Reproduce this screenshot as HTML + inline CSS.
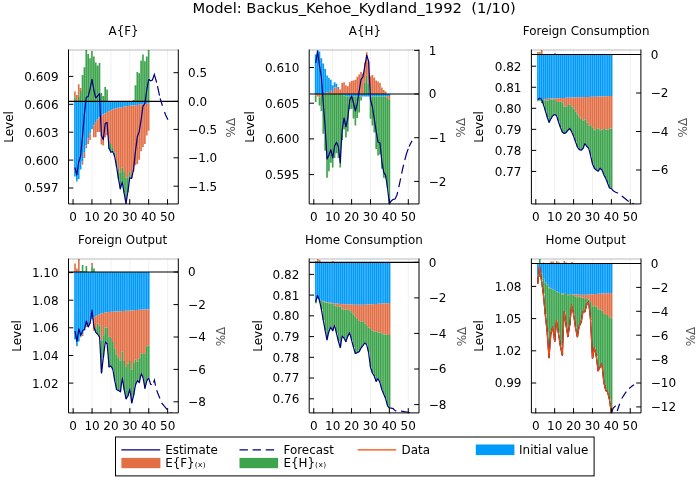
<!DOCTYPE html>
<html lang="en"><head><meta charset="utf-8"><title>Model: Backus_Kehoe_Kydland_1992 (1/10)</title>
<style>html,body{margin:0;padding:0;background:#fff}svg{display:block}</style></head>
<body>
<svg width="700" height="500" viewBox="0 0 700 500" font-family="'DejaVu Sans', 'Liberation Sans', sans-serif" font-size="12" fill="#000">
<rect width="700" height="500" fill="#fff"/>
<text x="354.2" y="13.2" font-size="14.72" text-anchor="middle" xml:space="preserve" style="white-space:pre">Model: Backus_Kehoe_Kydland_1992  (1/10)</text>
<clipPath id="c0"><rect x="68.5" y="50" width="109.8" height="153.95"/></clipPath>
<text x="123.6" y="35.3" text-anchor="middle" font-size="11.9">A{F}</text>
<path d="M73.05 50V203.95M91.95 50V203.95M110.85 50V203.95M129.75 50V203.95M148.65 50V203.95M167.55 50V203.95" stroke="#000" stroke-opacity="0.1" stroke-width="0.6" fill="none"/>
<g clip-path="url(#c0)">
<path d="M74.11 101.4h1.66V176.6h-1.66zM76 101.4h1.66V180.8h-1.66zM77.89 101.4h1.66V179h-1.66zM79.78 101.4h1.66V169.4h-1.66zM81.67 101.4h1.66V161.6h-1.66zM83.56 101.4h1.66V152h-1.66zM85.45 101.4h1.66V145.2h-1.66zM87.34 101.4h1.66V138.4h-1.66zM89.23 101.4h1.66V133.2h-1.66zM91.12 101.4h1.66V129.2h-1.66zM93.01 101.4h1.66V125.2h-1.66zM94.9 101.4h1.66V122h-1.66zM96.79 101.4h1.66V119.6h-1.66zM98.68 101.4h1.66V117.6h-1.66zM100.57 101.4h1.66V116h-1.66zM102.46 101.4h1.66V114.4h-1.66zM104.35 101.4h1.66V113.2h-1.66zM106.24 101.4h1.66V112h-1.66zM108.13 101.4h1.66V111.2h-1.66zM110.02 101.4h1.66V110.2h-1.66zM111.91 101.4h1.66V109.4h-1.66zM113.8 101.4h1.66V108.8h-1.66zM115.69 101.4h1.66V108.2h-1.66zM117.58 101.4h1.66V107.8h-1.66zM119.47 101.4h1.66V107.4h-1.66zM121.36 101.4h1.66V107h-1.66zM123.25 101.4h1.66V106.7h-1.66zM125.14 101.4h1.66V106.4h-1.66zM127.03 101.4h1.66V106.1h-1.66zM128.92 101.4h1.66V105.8h-1.66zM130.81 101.4h1.66V105.6h-1.66zM132.7 101.4h1.66V105.37h-1.66zM134.59 101.4h1.66V105.13h-1.66zM136.48 101.4h1.66V104.9h-1.66zM138.37 101.4h1.66V104.67h-1.66zM140.26 101.4h1.66V104.43h-1.66zM142.15 101.4h1.66V104.2h-1.66zM144.04 101.4h1.66V103.97h-1.66zM145.93 101.4h1.66V103.73h-1.66zM147.82 101.4h1.66V103.5h-1.66z" fill="#009AFA"/>
<path d="M74.11 91.4h1.66V97.4h-1.66zM76 95h1.66V101.4h-1.66zM77.89 84.2h1.66V97h-1.66zM79.78 88h1.66V91h-1.66zM81.67 161.6h1.66V164.6h-1.66zM83.56 152h1.66V158h-1.66zM85.45 145.2h1.66V148.2h-1.66zM87.34 138.4h1.66V144h-1.66zM89.23 133.2h1.66V140h-1.66zM93.01 125.2h1.66V137.2h-1.66zM94.9 122h1.66V137.2h-1.66zM96.79 119.6h1.66V132h-1.66zM98.68 117.6h1.66V132h-1.66zM100.57 116h1.66V144.4h-1.66zM102.46 114.4h1.66V145.6h-1.66zM104.35 113.2h1.66V137.2h-1.66zM106.24 112h1.66V135.2h-1.66zM108.13 111.2h1.66V140.8h-1.66zM110.02 110.2h1.66V144h-1.66zM111.91 109.4h1.66V148h-1.66zM113.8 108.8h1.66V152.8h-1.66zM115.69 108.2h1.66V161h-1.66zM117.58 107.8h1.66V168.2h-1.66zM119.47 107.4h1.66V173h-1.66zM121.36 107h1.66V167.6h-1.66zM123.25 106.7h1.66V171.2h-1.66zM125.14 106.4h1.66V177.8h-1.66zM127.03 106.1h1.66V177.2h-1.66zM128.92 105.8h1.66V171.8h-1.66zM130.81 105.6h1.66V178.2h-1.66zM132.7 105.37h1.66V171.8h-1.66zM134.59 105.13h1.66V165.2h-1.66zM136.48 104.9h1.66V164h-1.66zM138.37 104.67h1.66V159.8h-1.66zM140.26 104.43h1.66V151.3h-1.66zM142.15 104.2h1.66V147.1h-1.66zM144.04 103.97h1.66V144h-1.66zM145.93 103.73h1.66V135.6h-1.66zM147.82 103.5h1.66V130.8h-1.66z" fill="#E26F46"/>
<path d="M74.11 97.4h1.66V101.4h-1.66zM76 180.8h1.66V181.6h-1.66zM77.89 97h1.66V101.4h-1.66zM79.78 91h1.66V101.4h-1.66zM81.67 75h1.66V101.4h-1.66zM83.56 67.2h1.66V101.4h-1.66zM85.45 50h1.66V101.4h-1.66zM87.34 54h1.66V101.4h-1.66zM89.23 58.2h1.66V101.4h-1.66zM91.12 51h1.66V101.4h-1.66zM93.01 56.4h1.66V101.4h-1.66zM94.9 62.4h1.66V101.4h-1.66zM96.79 65.4h1.66V101.4h-1.66zM98.68 63h1.66V101.4h-1.66zM100.57 93h1.66V101.4h-1.66zM102.46 96h1.66V101.4h-1.66zM104.35 87h1.66V101.4h-1.66zM106.24 89.4h1.66V101.4h-1.66zM108.13 140.8h1.66V149h-1.66zM110.02 144h1.66V151.5h-1.66zM111.91 148h1.66V152h-1.66zM113.8 152.8h1.66V156.2h-1.66zM115.69 161h1.66V166.4h-1.66zM117.58 168.2h1.66V179h-1.66zM119.47 173h1.66V188.6h-1.66zM121.36 167.6h1.66V182h-1.66zM123.25 171.2h1.66V192.8h-1.66zM125.14 177.8h1.66V203.6h-1.66zM127.03 177.2h1.66V192h-1.66zM128.92 171.8h1.66V177.8h-1.66zM132.7 100h1.66V101.4h-1.66zM134.59 85.2h1.66V101.4h-1.66zM136.48 72h1.66V101.4h-1.66zM138.37 73.2h1.66V101.4h-1.66zM140.26 60.6h1.66V101.4h-1.66zM142.15 54.6h1.66V101.4h-1.66zM144.04 61.2h1.66V101.4h-1.66zM145.93 56.4h1.66V101.4h-1.66zM147.82 50h1.66V101.4h-1.66z" fill="#3DA44D"/>
<path d="M68.5 101.4H178.3" stroke="#000" stroke-width="1.15"/>
<polyline points="74.94,167.5 76.83,175 78.72,162 80.61,156 82.5,136 84.39,114 86.28,97.2 88.17,96.6 90.06,88.8 91.95,79.4 93.84,90 95.73,97.8 97.62,96 99.51,93.6 101.4,135.6 103.29,139.6 105.18,123.6 107.07,122.4 108.96,148 110.85,152.3 112.74,151.6 114.63,156.3 116.52,166.4 118.41,178.5 120.3,188.8 122.19,182 124.08,192.8 125.97,203.6 127.86,191.8 129.75,177.8 131.64,178.4 133.53,169.4 135.42,151.6 137.31,136.8 139.2,131.4 141.09,120 142.98,106.2 144.87,103.5 146.76,90 148.65,79.3" fill="none" stroke="#000080" stroke-width="1.2" stroke-linejoin="round"/>
<polyline points="148.65,79.3 150.54,80.8 152.43,80 154.32,74.4 156.21,81 158.1,89 159.99,98 161.88,104 163.77,110 165.66,115 167.55,119 169.44,122 171.33,124" fill="none" stroke="#000080" stroke-width="1.2" stroke-dasharray="19 3.6 9.7 2.8 7.7 6.5 8.6 99"/>
</g>
<path d="M68.5 50H178.3" stroke="#000" stroke-opacity="0.27" stroke-width="1"/>
<path d="M68.5 49.5V203.95H178.3V49.5M73.05 204.45v-5.3M91.95 204.45v-5.3M110.85 204.45v-5.3M129.75 204.45v-5.3M148.65 204.45v-5.3M167.55 204.45v-5.3M68.5 76.4h4.8M68.5 104.3h4.8M68.5 132.2h4.8M68.5 160.1h4.8M68.5 188h4.8M178.3 72.7h-4.8M178.3 101.4h-4.8M178.3 129.4h-4.8M178.3 157.8h-4.8M178.3 186.2h-4.8" stroke="#000" stroke-width="1" fill="none"/>
<text x="73.05" y="220.75" text-anchor="middle">0</text>
<text x="91.95" y="220.75" text-anchor="middle">10</text>
<text x="110.85" y="220.75" text-anchor="middle">20</text>
<text x="129.75" y="220.75" text-anchor="middle">30</text>
<text x="148.65" y="220.75" text-anchor="middle">40</text>
<text x="167.55" y="220.75" text-anchor="middle">50</text>
<text x="58.6" y="80.8" text-anchor="end">0.609</text>
<text x="58.6" y="108.7" text-anchor="end">0.606</text>
<text x="58.6" y="136.6" text-anchor="end">0.603</text>
<text x="58.6" y="164.5" text-anchor="end">0.600</text>
<text x="58.6" y="192.4" text-anchor="end">0.597</text>
<text x="188.1" y="77.1">0.5</text>
<text x="188.1" y="105.8">0.0</text>
<text x="188.1" y="133.8">−0.5</text>
<text x="188.1" y="162.2">−1.0</text>
<text x="188.1" y="190.6">−1.5</text>
<text transform="translate(12.7 126.97) rotate(-90)" text-anchor="middle">Level</text>
<text transform="translate(235.4 127.57) rotate(-90)" text-anchor="middle" fill="#585858">%Δ</text>
<clipPath id="c1"><rect x="309.2" y="50" width="109.8" height="153.95"/></clipPath>
<text x="364.9" y="35.3" text-anchor="middle" font-size="11.9">A{H}</text>
<path d="M313.8 50V203.95M332.7 50V203.95M351.6 50V203.95M370.5 50V203.95M389.4 50V203.95M408.3 50V203.95" stroke="#000" stroke-opacity="0.1" stroke-width="0.6" fill="none"/>
<g clip-path="url(#c1)">
<path d="M314.86 54.6h1.66V94h-1.66zM316.75 50h1.66V94h-1.66zM318.64 51.6h1.66V94h-1.66zM320.53 58.2h1.66V94h-1.66zM322.42 63.6h1.66V94h-1.66zM324.31 69h1.66V93h-1.66zM326.2 75.6h1.66V92.4h-1.66zM328.09 78h1.66V93h-1.66zM329.98 79.8h1.66V90h-1.66zM331.87 85.2h1.66V92h-1.66zM333.76 82.2h1.66V87.6h-1.66zM335.65 83.8h1.66V87h-1.66zM337.54 87h1.66V89h-1.66zM341.32 94h1.66V95h-1.66zM343.21 94h1.66V95.6h-1.66zM345.1 94h1.66V96.4h-1.66zM346.99 94h1.66V96.4h-1.66zM348.88 94h1.66V96.4h-1.66zM350.77 94h1.66V96.4h-1.66zM352.66 94h1.66V96.4h-1.66zM354.55 94h1.66V96.4h-1.66zM356.44 94h1.66V96.4h-1.66zM358.33 94h1.66V96.4h-1.66zM360.22 94h1.66V96.4h-1.66zM362.11 94h1.66V96.4h-1.66zM364 94h1.66V96.4h-1.66zM365.89 94h1.66V96.4h-1.66zM367.78 94h1.66V96.4h-1.66zM369.67 94h1.66V96.4h-1.66zM371.56 94h1.66V96.4h-1.66zM373.45 94h1.66V96.4h-1.66zM375.34 94h1.66V96.4h-1.66zM377.23 94h1.66V96.4h-1.66zM379.12 94h1.66V96.4h-1.66zM381.01 94h1.66V96.4h-1.66zM382.9 94h1.66V96.4h-1.66zM384.79 94h1.66V96.4h-1.66zM386.68 94h1.66V96h-1.66zM388.57 94h1.66V96h-1.66z" fill="#009AFA"/>
<path d="M314.86 94h1.66V95.5h-1.66zM316.75 94h1.66V96.4h-1.66zM318.64 94h1.66V97.5h-1.66zM320.53 94h1.66V96h-1.66zM324.31 93h1.66V94h-1.66zM326.2 92.4h1.66V94h-1.66zM328.09 93h1.66V94h-1.66zM329.98 90h1.66V94h-1.66zM331.87 92h1.66V94h-1.66zM333.76 87.6h1.66V94h-1.66zM335.65 87h1.66V94h-1.66zM337.54 89h1.66V94h-1.66zM339.43 89.4h1.66V94h-1.66zM341.32 83h1.66V94h-1.66zM343.21 82.2h1.66V94h-1.66zM345.1 85.2h1.66V94h-1.66zM346.99 86.2h1.66V94h-1.66zM348.88 82.2h1.66V94h-1.66zM350.77 81h1.66V94h-1.66zM352.66 80.6h1.66V94h-1.66zM354.55 79.8h1.66V94h-1.66zM356.44 76.8h1.66V94h-1.66zM358.33 74.6h1.66V94h-1.66zM360.22 72h1.66V94h-1.66zM362.11 73.4h1.66V94h-1.66zM364 62.4h1.66V82.8h-1.66zM365.89 52.2h1.66V75.8h-1.66zM367.78 61.8h1.66V84h-1.66zM369.67 76.2h1.66V94h-1.66zM371.56 75h1.66V94h-1.66zM373.45 77.4h1.66V94h-1.66zM375.34 80.4h1.66V94h-1.66zM377.23 81.6h1.66V94h-1.66zM379.12 83h1.66V94h-1.66zM381.01 87.6h1.66V94h-1.66zM382.9 90h1.66V94h-1.66zM384.79 91.5h1.66V94h-1.66zM386.68 96h1.66V97.8h-1.66zM388.57 96h1.66V100h-1.66z" fill="#E26F46"/>
<path d="M314.86 95.5h1.66V102h-1.66zM318.64 97.5h1.66V105.6h-1.66zM320.53 96h1.66V111h-1.66zM322.42 94h1.66V133.8h-1.66zM324.31 94h1.66V150.8h-1.66zM326.2 94h1.66V177.8h-1.66zM328.09 94h1.66V171.2h-1.66zM329.98 94h1.66V162.8h-1.66zM331.87 94h1.66V167.6h-1.66zM333.76 94h1.66V158h-1.66zM335.65 94h1.66V153.2h-1.66zM337.54 94h1.66V158h-1.66zM339.43 94h1.66V167.6h-1.66zM341.32 95h1.66V140h-1.66zM343.21 95.6h1.66V129.6h-1.66zM345.1 96.4h1.66V137.4h-1.66zM346.99 96.4h1.66V131.4h-1.66zM348.88 96.4h1.66V109.2h-1.66zM350.77 96.4h1.66V108.8h-1.66zM352.66 96.4h1.66V118.4h-1.66zM354.55 96.4h1.66V125.6h-1.66zM356.44 96.4h1.66V118h-1.66zM358.33 96.4h1.66V112.4h-1.66zM360.22 96.4h1.66V100.6h-1.66zM364 82.8h1.66V94h-1.66zM365.89 75.8h1.66V94h-1.66zM367.78 84h1.66V94h-1.66zM369.67 96.4h1.66V118.8h-1.66zM371.56 96.4h1.66V125.4h-1.66zM373.45 96.4h1.66V132.6h-1.66zM375.34 96.4h1.66V149h-1.66zM377.23 96.4h1.66V155.6h-1.66zM379.12 96.4h1.66V154.5h-1.66zM381.01 96.4h1.66V168.8h-1.66zM382.9 96.4h1.66V177.8h-1.66zM384.79 96.4h1.66V178.5h-1.66zM386.68 97.8h1.66V188h-1.66zM388.57 100h1.66V203.6h-1.66z" fill="#3DA44D"/>
<path d="M309.2 94H419" stroke="#000" stroke-width="1.15"/>
<polyline points="315.69,62.8 317.58,51.4 319.47,65.5 321.36,77 323.25,103 325.14,127 327.03,159 328.92,155 330.81,149.6 332.7,158 334.59,146 336.48,142.2 338.37,146.4 340.26,162.8 342.15,130 344.04,118 345.93,126.8 347.82,118.2 349.71,100.5 351.6,96 353.49,103 355.38,111 357.27,103.6 359.16,91 361.05,79.4 362.94,76.8 364.83,66 366.72,55.2 368.61,61.2 370.5,99.5 372.39,107 374.28,118.8 376.17,131.4 378.06,142.2 379.95,142.8 381.84,161.6 383.73,172.4 385.62,175.4 387.51,188 389.4,203.8" fill="none" stroke="#000080" stroke-width="1.2" stroke-linejoin="round"/>
<polyline points="389.4,203.8 391.29,201 393.18,199.4 395.07,199 396.96,195 398.85,187 400.74,178 402.63,169 404.52,161 406.41,154 408.3,148.5 410.19,144.3 412.08,140.9" fill="none" stroke="#000080" stroke-width="1.2" stroke-dasharray="15.3 4.9 9 4.9 9.1 4.9 11.6 2.5 7.4 99"/>
</g>
<path d="M309.2 50H419" stroke="#000" stroke-opacity="0.27" stroke-width="1"/>
<path d="M309.2 49.5V203.95H419V49.5M313.8 204.45v-5.3M332.7 204.45v-5.3M351.6 204.45v-5.3M370.5 204.45v-5.3M389.4 204.45v-5.3M408.3 204.45v-5.3M309.2 67.5h4.8M309.2 103.2h4.8M309.2 138.9h4.8M309.2 174.6h4.8M419 50.4h-4.8M419 94h-4.8M419 137.7h-4.8M419 181.4h-4.8" stroke="#000" stroke-width="1" fill="none"/>
<text x="313.8" y="220.75" text-anchor="middle">0</text>
<text x="332.7" y="220.75" text-anchor="middle">10</text>
<text x="351.6" y="220.75" text-anchor="middle">20</text>
<text x="370.5" y="220.75" text-anchor="middle">30</text>
<text x="389.4" y="220.75" text-anchor="middle">40</text>
<text x="408.3" y="220.75" text-anchor="middle">50</text>
<text x="299.3" y="71.9" text-anchor="end">0.610</text>
<text x="299.3" y="107.6" text-anchor="end">0.605</text>
<text x="299.3" y="143.3" text-anchor="end">0.600</text>
<text x="299.3" y="179" text-anchor="end">0.595</text>
<text x="428.8" y="54.8">1</text>
<text x="428.8" y="98.4">0</text>
<text x="428.8" y="142.1">−1</text>
<text x="428.8" y="185.8">−2</text>
<text transform="translate(253.5 126.97) rotate(-90)" text-anchor="middle">Level</text>
<text transform="translate(464.6 127.57) rotate(-90)" text-anchor="middle" fill="#585858">%Δ</text>
<clipPath id="c2"><rect x="531.4" y="50" width="109.5" height="153.95"/></clipPath>
<text x="586.15" y="35.3" text-anchor="middle" font-size="11.9">Foreign Consumption</text>
<path d="M535.8 50V203.95M554.7 50V203.95M573.6 50V203.95M592.5 50V203.95M611.4 50V203.95M630.3 50V203.95" stroke="#000" stroke-opacity="0.1" stroke-width="0.6" fill="none"/>
<g clip-path="url(#c2)">
<path d="M537.11 54.45h1.66V100.2h-1.66zM539 54.45h1.66V99.9h-1.66zM540.89 54.45h1.66V99.6h-1.66zM542.78 54.45h1.66V99.3h-1.66zM544.67 54.45h1.66V99h-1.66zM546.56 54.45h1.66V98.86h-1.66zM548.45 54.45h1.66V98.72h-1.66zM550.34 54.45h1.66V98.58h-1.66zM552.23 54.45h1.66V98.44h-1.66zM554.12 54.45h1.66V98.3h-1.66zM556.01 54.45h1.66V98.22h-1.66zM557.9 54.45h1.66V98.14h-1.66zM559.79 54.45h1.66V98.06h-1.66zM561.68 54.45h1.66V97.98h-1.66zM563.57 54.45h1.66V97.9h-1.66zM565.46 54.45h1.66V97.82h-1.66zM567.35 54.45h1.66V97.74h-1.66zM569.24 54.45h1.66V97.66h-1.66zM571.13 54.45h1.66V97.58h-1.66zM573.02 54.45h1.66V97.5h-1.66zM574.91 54.45h1.66V97.43h-1.66zM576.8 54.45h1.66V97.36h-1.66zM578.69 54.45h1.66V97.29h-1.66zM580.58 54.45h1.66V97.22h-1.66zM582.47 54.45h1.66V97.15h-1.66zM584.36 54.45h1.66V97.08h-1.66zM586.25 54.45h1.66V97.01h-1.66zM588.14 54.45h1.66V96.94h-1.66zM590.03 54.45h1.66V96.87h-1.66zM591.92 54.45h1.66V96.8h-1.66zM593.81 54.45h1.66V96.72h-1.66zM595.7 54.45h1.66V96.64h-1.66zM597.59 54.45h1.66V96.56h-1.66zM599.48 54.45h1.66V96.48h-1.66zM601.37 54.45h1.66V96.4h-1.66zM603.26 54.45h1.66V96.32h-1.66zM605.15 54.45h1.66V96.24h-1.66zM607.04 54.45h1.66V96.16h-1.66zM608.93 54.45h1.66V96.08h-1.66zM610.82 54.45h1.66V96h-1.66z" fill="#009AFA"/>
<path d="M537.11 52h1.66V54.45h-1.66zM539 52h1.66V53.5h-1.66zM540.89 50h1.66V54.45h-1.66zM544.67 99h1.66V100.8h-1.66zM546.56 98.86h1.66V100.6h-1.66zM548.45 98.72h1.66V100h-1.66zM550.34 98.58h1.66V99.7h-1.66zM552.23 98.44h1.66V99.4h-1.66zM554.12 53h1.66V54.45h-1.66zM554.12 98.3h1.66V99.2h-1.66zM556.01 98.22h1.66V102h-1.66zM557.9 98.14h1.66V102h-1.66zM559.79 98.06h1.66V101.4h-1.66zM561.68 97.98h1.66V102.6h-1.66zM563.57 97.9h1.66V106.8h-1.66zM565.46 97.82h1.66V106.2h-1.66zM567.35 97.74h1.66V105h-1.66zM569.24 97.66h1.66V104.4h-1.66zM571.13 97.58h1.66V106.8h-1.66zM573.02 97.5h1.66V108.6h-1.66zM574.91 97.43h1.66V111.6h-1.66zM576.8 97.36h1.66V114.6h-1.66zM578.69 97.29h1.66V117.3h-1.66zM580.58 97.22h1.66V119h-1.66zM582.47 97.15h1.66V120.6h-1.66zM584.36 97.08h1.66V119.4h-1.66zM586.25 97.01h1.66V122.4h-1.66zM588.14 96.94h1.66V125.4h-1.66zM590.03 96.87h1.66V126h-1.66zM591.92 96.8h1.66V127.2h-1.66zM593.81 96.72h1.66V130.2h-1.66zM595.7 96.64h1.66V129h-1.66zM597.59 96.56h1.66V128.6h-1.66zM599.48 96.48h1.66V130.2h-1.66zM601.37 96.4h1.66V129.6h-1.66zM603.26 96.32h1.66V129h-1.66zM605.15 96.24h1.66V129.6h-1.66zM607.04 96.16h1.66V129.8h-1.66zM608.93 96.08h1.66V128.4h-1.66zM610.82 96h1.66V128.4h-1.66z" fill="#E26F46"/>
<path d="M537.11 100.2h1.66V101.2h-1.66zM539 53.5h1.66V54.45h-1.66zM539 99.9h1.66V100.7h-1.66zM540.89 99.6h1.66V103h-1.66zM542.78 99.3h1.66V104.4h-1.66zM544.67 100.8h1.66V110.4h-1.66zM546.56 100.6h1.66V117h-1.66zM548.45 100h1.66V122.4h-1.66zM550.34 99.7h1.66V118.8h-1.66zM552.23 99.4h1.66V115.8h-1.66zM554.12 99.2h1.66V114.6h-1.66zM556.01 102h1.66V115.8h-1.66zM557.9 102h1.66V121.8h-1.66zM559.79 101.4h1.66V127.2h-1.66zM561.68 102.6h1.66V132h-1.66zM563.57 106.8h1.66V133.5h-1.66zM565.46 106.2h1.66V132.6h-1.66zM567.35 105h1.66V130.2h-1.66zM569.24 104.4h1.66V128.4h-1.66zM571.13 106.8h1.66V132h-1.66zM573.02 108.6h1.66V136.2h-1.66zM574.91 111.6h1.66V141.6h-1.66zM576.8 114.6h1.66V147h-1.66zM578.69 117.3h1.66V149.6h-1.66zM580.58 119h1.66V150.2h-1.66zM582.47 120.6h1.66V148.4h-1.66zM584.36 119.4h1.66V143.5h-1.66zM586.25 122.4h1.66V146.5h-1.66zM588.14 125.4h1.66V148.4h-1.66zM590.03 126h1.66V155.6h-1.66zM591.92 127.2h1.66V164h-1.66zM593.81 130.2h1.66V168.2h-1.66zM595.7 129h1.66V170h-1.66zM597.59 128.6h1.66V171.2h-1.66zM599.48 130.2h1.66V168.2h-1.66zM601.37 129.6h1.66V170h-1.66zM603.26 129h1.66V174.8h-1.66zM605.15 129.6h1.66V178.4h-1.66zM607.04 129.8h1.66V183.2h-1.66zM608.93 128.4h1.66V188h-1.66zM610.82 128.4h1.66V188.6h-1.66z" fill="#3DA44D"/>
<path d="M531.4 54.45H640.9" stroke="#000" stroke-width="1.15"/>
<polyline points="537.69,99.6 539.58,98.2 541.47,99 543.36,104.4 545.25,110.4 547.14,117 549.03,122.4 550.92,118.8 552.81,115.8 554.7,114.6 556.59,115.8 558.48,121.8 560.37,127.2 562.26,132 564.15,133.5 566.04,132.6 567.93,130.2 569.82,128.4 571.71,132 573.6,136.2 575.49,141.6 577.38,147 579.27,149.6 581.16,150.2 583.05,148.4 584.94,143.5 586.83,146.5 588.72,148.4 590.61,155.6 592.5,164 594.39,168.2 596.28,170 598.17,171.2 600.06,168.2 601.95,170 603.84,174.8 605.73,178.4 607.62,183.2 609.51,188 611.4,188.6" fill="none" stroke="#000080" stroke-width="1.2" stroke-linejoin="round"/>
<polyline points="611.4,188.7 613.29,190.7 615.18,192 617.07,192.7 618.96,193.7 620.85,195.2 622.74,196.7 624.63,198.2 626.52,199.7 628.41,201.3 630.3,202.4 632.19,203.3 634.08,203.9" fill="none" stroke="#000080" stroke-width="1.2" stroke-dasharray="8.1 4.7 8.8 4.2 8.5 4.6"/>
</g>
<path d="M531.4 50H640.9" stroke="#000" stroke-opacity="0.27" stroke-width="1"/>
<path d="M531.4 49.5V203.95H640.9V49.5M535.8 204.45v-5.3M554.7 204.45v-5.3M573.6 204.45v-5.3M592.5 204.45v-5.3M611.4 204.45v-5.3M630.3 204.45v-5.3M531.4 66.2h4.8M531.4 87.25h4.8M531.4 108.3h4.8M531.4 129.35h4.8M531.4 150.4h4.8M531.4 171.45h4.8M640.9 54.5h-4.8M640.9 93h-4.8M640.9 131.5h-4.8M640.9 170h-4.8" stroke="#000" stroke-width="1" fill="none"/>
<text x="535.8" y="220.75" text-anchor="middle">0</text>
<text x="554.7" y="220.75" text-anchor="middle">10</text>
<text x="573.6" y="220.75" text-anchor="middle">20</text>
<text x="592.5" y="220.75" text-anchor="middle">30</text>
<text x="611.4" y="220.75" text-anchor="middle">40</text>
<text x="630.3" y="220.75" text-anchor="middle">50</text>
<text x="521.5" y="70.6" text-anchor="end">0.82</text>
<text x="521.5" y="91.65" text-anchor="end">0.81</text>
<text x="521.5" y="112.7" text-anchor="end">0.80</text>
<text x="521.5" y="133.75" text-anchor="end">0.79</text>
<text x="521.5" y="154.8" text-anchor="end">0.78</text>
<text x="521.5" y="175.85" text-anchor="end">0.77</text>
<text x="650.7" y="58.9">0</text>
<text x="650.7" y="97.4">−2</text>
<text x="650.7" y="135.9">−4</text>
<text x="650.7" y="174.4">−6</text>
<text transform="translate(482.9 126.97) rotate(-90)" text-anchor="middle">Level</text>
<text transform="translate(687.3 127.57) rotate(-90)" text-anchor="middle" fill="#585858">%Δ</text>
<clipPath id="c3"><rect x="68.5" y="259" width="109.8" height="153.9"/></clipPath>
<text x="122.6" y="244.3" text-anchor="middle" font-size="11.9">Foreign Output</text>
<path d="M73.15 259V412.9M92.05 259V412.9M110.95 259V412.9M129.85 259V412.9M148.75 259V412.9M167.65 259V412.9" stroke="#000" stroke-opacity="0.1" stroke-width="0.6" fill="none"/>
<g clip-path="url(#c3)">
<path d="M74.21 272h1.66V339.6h-1.66zM76.1 272h1.66V345h-1.66zM77.99 272h1.66V341.4h-1.66zM79.88 272h1.66V336h-1.66zM81.77 272h1.66V334.2h-1.66zM83.66 272h1.66V330h-1.66zM85.55 272h1.66V325.8h-1.66zM87.44 272h1.66V324h-1.66zM89.33 272h1.66V321.6h-1.66zM91.22 272h1.66V319.2h-1.66zM93.11 272h1.66V317.4h-1.66zM95 272h1.66V316.2h-1.66zM96.89 272h1.66V315h-1.66zM98.78 272h1.66V314.2h-1.66zM100.67 272h1.66V313.4h-1.66zM102.56 272h1.66V313h-1.66zM104.45 272h1.66V312.6h-1.66zM106.34 272h1.66V312.2h-1.66zM108.23 272h1.66V312h-1.66zM110.12 272h1.66V311.8h-1.66zM112.01 272h1.66V311.7h-1.66zM113.9 272h1.66V311.57h-1.66zM115.79 272h1.66V311.44h-1.66zM117.68 272h1.66V311.31h-1.66zM119.57 272h1.66V311.17h-1.66zM121.46 272h1.66V311.04h-1.66zM123.35 272h1.66V310.91h-1.66zM125.24 272h1.66V310.78h-1.66zM127.13 272h1.66V310.65h-1.66zM129.02 272h1.66V310.52h-1.66zM130.91 272h1.66V310.38h-1.66zM132.8 272h1.66V310.25h-1.66zM134.69 272h1.66V310.12h-1.66zM136.58 272h1.66V309.99h-1.66zM138.47 272h1.66V309.86h-1.66zM140.36 272h1.66V309.73h-1.66zM142.25 272h1.66V309.59h-1.66zM144.14 272h1.66V309.46h-1.66zM146.03 272h1.66V309.33h-1.66zM147.92 272h1.66V309.2h-1.66z" fill="#009AFA"/>
<path d="M74.21 263.6h1.66V272h-1.66zM76.1 268.4h1.66V272h-1.66zM77.99 259h1.66V272h-1.66zM79.88 336h1.66V337.2h-1.66zM81.77 334.2h1.66V336h-1.66zM83.66 330h1.66V330.6h-1.66zM85.55 325.8h1.66V327h-1.66zM87.44 324h1.66V327h-1.66zM89.33 321.6h1.66V324h-1.66zM91.22 263h1.66V266.6h-1.66zM93.11 317.4h1.66V330.8h-1.66zM95 316.2h1.66V328.2h-1.66zM96.89 315h1.66V323.4h-1.66zM98.78 314.2h1.66V325.8h-1.66zM100.67 313.4h1.66V340.4h-1.66zM102.56 313h1.66V335.2h-1.66zM104.45 312.6h1.66V327.6h-1.66zM106.34 312.2h1.66V327.6h-1.66zM108.23 312h1.66V336.8h-1.66zM110.12 311.8h1.66V338h-1.66zM112.01 311.7h1.66V342h-1.66zM113.9 311.57h1.66V348.2h-1.66zM115.79 311.44h1.66V354.2h-1.66zM117.68 311.31h1.66V358.1h-1.66zM119.57 311.17h1.66V360.7h-1.66zM121.46 311.04h1.66V351.6h-1.66zM123.35 310.91h1.66V361h-1.66zM125.24 310.78h1.66V367h-1.66zM127.13 310.65h1.66V363.8h-1.66zM129.02 310.52h1.66V361h-1.66zM130.91 310.38h1.66V369.4h-1.66zM132.8 310.25h1.66V363h-1.66zM134.69 310.12h1.66V359.6h-1.66zM136.58 309.99h1.66V361.7h-1.66zM138.47 309.86h1.66V358.2h-1.66zM140.36 309.73h1.66V353.3h-1.66zM142.25 309.59h1.66V354h-1.66zM144.14 309.46h1.66V353.3h-1.66zM146.03 309.33h1.66V346.3h-1.66zM147.92 309.2h1.66V345.6h-1.66z" fill="#E26F46"/>
<path d="M76.1 345h1.66V346.2h-1.66zM79.88 271h1.66V272h-1.66zM81.77 265h1.66V272h-1.66zM83.66 271.2h1.66V272h-1.66zM85.55 266h1.66V272h-1.66zM91.22 266.6h1.66V272h-1.66zM93.11 268.4h1.66V272h-1.66zM95 328.2h1.66V332.4h-1.66zM96.89 323.4h1.66V334.2h-1.66zM98.78 325.8h1.66V337.2h-1.66zM100.67 340.4h1.66V372.9h-1.66zM102.56 335.2h1.66V357h-1.66zM104.45 327.6h1.66V342h-1.66zM106.34 327.6h1.66V344h-1.66zM108.23 336.8h1.66V367h-1.66zM110.12 338h1.66V366h-1.66zM112.01 342h1.66V369.5h-1.66zM113.9 348.2h1.66V380.6h-1.66zM115.79 354.2h1.66V389.7h-1.66zM117.68 358.1h1.66V390.4h-1.66zM119.57 360.7h1.66V391.8h-1.66zM121.46 351.6h1.66V377.8h-1.66zM123.35 361h1.66V389.7h-1.66zM125.24 367h1.66V398.8h-1.66zM127.13 363.8h1.66V396h-1.66zM129.02 361h1.66V389h-1.66zM130.91 369.4h1.66V403h-1.66zM132.8 363h1.66V395.3h-1.66zM134.69 359.6h1.66V384.8h-1.66zM136.58 361.7h1.66V380.6h-1.66zM138.47 358.2h1.66V382.7h-1.66zM140.36 353.3h1.66V373.6h-1.66zM142.25 354h1.66V377.8h-1.66zM144.14 353.3h1.66V388.3h-1.66zM146.03 346.3h1.66V380.6h-1.66zM147.92 345.6h1.66V377.8h-1.66z" fill="#3DA44D"/>
<path d="M68.5 272H178.3" stroke="#000" stroke-width="1.15"/>
<polyline points="75.04,331.2 76.93,341.4 78.82,328.8 80.71,335.4 82.6,330.6 84.49,329.4 86.38,321 88.27,327 90.16,322.8 92.05,310.2 93.94,327 95.83,332.4 97.72,334.2 99.61,337.2 101.5,372.9 103.39,357 105.28,342 107.17,344 109.06,367 110.95,366 112.84,369.5 114.73,380.6 116.62,389.7 118.51,390.4 120.4,391.8 122.29,377.8 124.18,389.7 126.07,398.8 127.96,396 129.85,389 131.74,403 133.63,395.3 135.52,384.8 137.41,380.6 139.3,382.7 141.19,373.6 143.08,377.8 144.97,388.3 146.86,380.6 148.75,377.8" fill="none" stroke="#000080" stroke-width="1.2" stroke-linejoin="round"/>
<polyline points="148.75,378.2 150.64,384.2 152.53,385 154.42,380.2 156.31,389.5 158.2,394.2 160.09,398.8 161.98,403.4 163.87,405.7 165.76,407.8 167.65,409.8 169.54,411.5 171.43,413.2" fill="none" stroke="#000080" stroke-width="1.2" stroke-dasharray="7.5 3.6 7.9 4.9 8.8 4.6 8.8 4.6 8.5 4.6"/>
</g>
<path d="M68.5 259H178.3" stroke="#000" stroke-opacity="0.27" stroke-width="1"/>
<path d="M68.5 258.5V412.9H178.3V258.5M73.15 413.4v-5.3M92.05 413.4v-5.3M110.95 413.4v-5.3M129.85 413.4v-5.3M148.75 413.4v-5.3M167.65 413.4v-5.3M68.5 272.6h4.8M68.5 300.2h4.8M68.5 327.8h4.8M68.5 355.5h4.8M68.5 383.1h4.8M178.3 272h-4.8M178.3 304.6h-4.8M178.3 337h-4.8M178.3 369.4h-4.8M178.3 401.8h-4.8" stroke="#000" stroke-width="1" fill="none"/>
<text x="73.15" y="429.7" text-anchor="middle">0</text>
<text x="92.05" y="429.7" text-anchor="middle">10</text>
<text x="110.95" y="429.7" text-anchor="middle">20</text>
<text x="129.85" y="429.7" text-anchor="middle">30</text>
<text x="148.75" y="429.7" text-anchor="middle">40</text>
<text x="167.65" y="429.7" text-anchor="middle">50</text>
<text x="58.6" y="277" text-anchor="end">1.10</text>
<text x="58.6" y="304.6" text-anchor="end">1.08</text>
<text x="58.6" y="332.2" text-anchor="end">1.06</text>
<text x="58.6" y="359.9" text-anchor="end">1.04</text>
<text x="58.6" y="387.5" text-anchor="end">1.02</text>
<text x="188.1" y="276.4">0</text>
<text x="188.1" y="309">−2</text>
<text x="188.1" y="341.4">−4</text>
<text x="188.1" y="373.8">−6</text>
<text x="188.1" y="406.2">−8</text>
<text transform="translate(21.3 335.95) rotate(-90)" text-anchor="middle">Level</text>
<text transform="translate(225.2 336.55) rotate(-90)" text-anchor="middle" fill="#585858">%Δ</text>
<clipPath id="c4"><rect x="309.2" y="259" width="109.8" height="153.9"/></clipPath>
<text x="363.9" y="244.3" text-anchor="middle" font-size="11.9">Home Consumption</text>
<path d="M313.75 259V412.9M332.65 259V412.9M351.55 259V412.9M370.45 259V412.9M389.35 259V412.9M408.25 259V412.9" stroke="#000" stroke-opacity="0.1" stroke-width="0.6" fill="none"/>
<g clip-path="url(#c4)">
<path d="M315.06 262.3h1.66V300h-1.66zM316.95 262.3h1.66V298.6h-1.66zM318.84 262.3h1.66V299.6h-1.66zM320.73 262.3h1.66V300.8h-1.66zM322.62 262.3h1.66V301.4h-1.66zM324.51 262.3h1.66V301.8h-1.66zM326.4 262.3h1.66V302.2h-1.66zM328.29 262.3h1.66V302.53h-1.66zM330.18 262.3h1.66V302.87h-1.66zM332.07 262.3h1.66V303.2h-1.66zM333.96 262.3h1.66V303.4h-1.66zM335.85 262.3h1.66V303.6h-1.66zM337.74 262.3h1.66V303.8h-1.66zM339.63 262.3h1.66V304h-1.66zM341.52 262.3h1.66V304.2h-1.66zM343.41 262.3h1.66V304.28h-1.66zM345.3 262.3h1.66V304.36h-1.66zM347.19 262.3h1.66V304.44h-1.66zM349.08 262.3h1.66V304.52h-1.66zM350.97 262.3h1.66V304.6h-1.66zM352.86 262.3h1.66V304.63h-1.66zM354.75 262.3h1.66V304.67h-1.66zM356.64 262.3h1.66V304.7h-1.66zM358.53 262.3h1.66V304.73h-1.66zM360.42 262.3h1.66V304.77h-1.66zM362.31 262.3h1.66V304.8h-1.66zM364.2 262.3h1.66V304.67h-1.66zM366.09 262.3h1.66V304.54h-1.66zM367.98 262.3h1.66V304.41h-1.66zM369.87 262.3h1.66V304.29h-1.66zM371.76 262.3h1.66V304.16h-1.66zM373.65 262.3h1.66V304.03h-1.66zM375.54 262.3h1.66V303.9h-1.66zM377.43 262.3h1.66V303.77h-1.66zM379.32 262.3h1.66V303.64h-1.66zM381.21 262.3h1.66V303.51h-1.66zM383.1 262.3h1.66V303.39h-1.66zM384.99 262.3h1.66V303.26h-1.66zM386.88 262.3h1.66V303.13h-1.66zM388.77 262.3h1.66V303h-1.66z" fill="#009AFA"/>
<path d="M315.06 261h1.66V262.3h-1.66zM316.95 259.2h1.66V260.6h-1.66zM318.84 260h1.66V262.3h-1.66zM322.62 301.4h1.66V302h-1.66zM324.51 301.8h1.66V302.4h-1.66zM326.4 302.2h1.66V302.8h-1.66zM328.29 302.53h1.66V303.2h-1.66zM330.18 302.87h1.66V303.6h-1.66zM332.07 261.3h1.66V262.3h-1.66zM332.07 303.2h1.66V303.9h-1.66zM333.96 303.4h1.66V305.6h-1.66zM335.85 303.6h1.66V306.2h-1.66zM337.74 303.8h1.66V306.2h-1.66zM339.63 304h1.66V306.8h-1.66zM341.52 304.2h1.66V309.2h-1.66zM343.41 304.28h1.66V309.8h-1.66zM345.3 304.36h1.66V309.8h-1.66zM347.19 304.44h1.66V309.2h-1.66zM349.08 304.52h1.66V310.4h-1.66zM350.97 304.6h1.66V312.2h-1.66zM352.86 304.63h1.66V314.6h-1.66zM354.75 304.67h1.66V317h-1.66zM356.64 304.7h1.66V319.1h-1.66zM358.53 304.73h1.66V320.9h-1.66zM360.42 304.77h1.66V322h-1.66zM362.31 304.8h1.66V321.3h-1.66zM364.2 304.67h1.66V323.6h-1.66zM366.09 304.54h1.66V326h-1.66zM367.98 304.41h1.66V327.8h-1.66zM369.87 304.29h1.66V329h-1.66zM371.76 304.16h1.66V330.8h-1.66zM373.65 304.03h1.66V331.4h-1.66zM375.54 303.9h1.66V331.4h-1.66zM377.43 303.77h1.66V332.6h-1.66zM379.32 303.64h1.66V332.6h-1.66zM381.21 303.51h1.66V333.2h-1.66zM383.1 303.39h1.66V334.4h-1.66zM384.99 303.26h1.66V334.6h-1.66zM386.88 303.13h1.66V335h-1.66zM388.77 303h1.66V335h-1.66z" fill="#E26F46"/>
<path d="M315.06 300h1.66V303.2h-1.66zM316.95 260.6h1.66V262.3h-1.66zM318.84 299.6h1.66V302.4h-1.66zM320.73 300.8h1.66V309.2h-1.66zM322.62 302h1.66V320h-1.66zM324.51 302.4h1.66V330.2h-1.66zM326.4 302.8h1.66V339.8h-1.66zM328.29 303.2h1.66V331.4h-1.66zM330.18 303.6h1.66V327.2h-1.66zM332.07 303.9h1.66V330.8h-1.66zM333.96 305.6h1.66V325.4h-1.66zM335.85 306.2h1.66V333.2h-1.66zM337.74 306.2h1.66V341h-1.66zM339.63 306.8h1.66V347.6h-1.66zM341.52 309.2h1.66V336.2h-1.66zM343.41 309.8h1.66V338h-1.66zM345.3 309.8h1.66V341.6h-1.66zM347.19 309.2h1.66V336.2h-1.66zM349.08 310.4h1.66V332.6h-1.66zM350.97 312.2h1.66V340.2h-1.66zM352.86 314.6h1.66V347.1h-1.66zM354.75 317h1.66V353.5h-1.66zM356.64 319.1h1.66V352.6h-1.66zM358.53 320.9h1.66V351.7h-1.66zM360.42 322h1.66V348.1h-1.66zM362.31 321.3h1.66V345.6h-1.66zM364.2 323.6h1.66V343h-1.66zM366.09 326h1.66V344.6h-1.66zM367.98 327.8h1.66V352.6h-1.66zM369.87 329h1.66V367h-1.66zM371.76 330.8h1.66V373h-1.66zM373.65 331.4h1.66V376h-1.66zM375.54 331.4h1.66V381.4h-1.66zM377.43 332.6h1.66V378.7h-1.66zM379.32 332.6h1.66V382.3h-1.66zM381.21 333.2h1.66V389.5h-1.66zM383.1 334.4h1.66V394h-1.66zM384.99 334.6h1.66V398.5h-1.66zM386.88 335h1.66V405.7h-1.66zM388.77 335h1.66V408h-1.66z" fill="#3DA44D"/>
<path d="M309.2 262.3H419" stroke="#000" stroke-width="1.15"/>
<polyline points="315.64,302 317.53,295.4 319.42,300.2 321.31,309.2 323.2,320 325.09,330.2 326.98,339.8 328.87,331.4 330.76,327.2 332.65,330.8 334.54,325.4 336.43,333.2 338.32,341 340.21,347.6 342.1,336.2 343.99,338 345.88,341.6 347.77,336.2 349.66,332.6 351.55,340.2 353.44,347.1 355.33,353.5 357.22,352.6 359.11,351.7 361,348.1 362.89,345.6 364.78,343 366.67,344.6 368.56,352.6 370.45,367 372.34,373 374.23,376 376.12,381.4 378.01,378.7 379.9,382.3 381.79,389.5 383.68,394 385.57,398.5 387.46,405.7 389.35,408" fill="none" stroke="#000080" stroke-width="1.2" stroke-linejoin="round"/>
<polyline points="389.35,408 391.24,408.2 393.13,408.6 395.02,410.6 396.91,411.5 398.8,411.3 400.69,411.1 402.58,411.3 404.47,411.7 406.36,412 408.25,412.4 410.14,412.7 412.03,413" fill="none" stroke="#000080" stroke-width="1.2" stroke-dasharray="8 4.9 8.7 4.6 8.5 4.6"/>
</g>
<path d="M309.2 259H419" stroke="#000" stroke-opacity="0.27" stroke-width="1"/>
<path d="M309.2 258.5V412.9H419V258.5M313.75 413.4v-5.3M332.65 413.4v-5.3M351.55 413.4v-5.3M370.45 413.4v-5.3M389.35 413.4v-5.3M408.25 413.4v-5.3M309.2 274.4h4.8M309.2 295.1h4.8M309.2 315.8h4.8M309.2 336.6h4.8M309.2 357.3h4.8M309.2 378h4.8M309.2 398.8h4.8M419 262.3h-4.8M419 297.9h-4.8M419 333.4h-4.8M419 369h-4.8M419 404.6h-4.8" stroke="#000" stroke-width="1" fill="none"/>
<text x="313.75" y="429.7" text-anchor="middle">0</text>
<text x="332.65" y="429.7" text-anchor="middle">10</text>
<text x="351.55" y="429.7" text-anchor="middle">20</text>
<text x="370.45" y="429.7" text-anchor="middle">30</text>
<text x="389.35" y="429.7" text-anchor="middle">40</text>
<text x="408.25" y="429.7" text-anchor="middle">50</text>
<text x="299.3" y="278.8" text-anchor="end">0.82</text>
<text x="299.3" y="299.5" text-anchor="end">0.81</text>
<text x="299.3" y="320.2" text-anchor="end">0.80</text>
<text x="299.3" y="341" text-anchor="end">0.79</text>
<text x="299.3" y="361.7" text-anchor="end">0.78</text>
<text x="299.3" y="382.4" text-anchor="end">0.77</text>
<text x="299.3" y="403.2" text-anchor="end">0.76</text>
<text x="428.8" y="266.7">0</text>
<text x="428.8" y="302.3">−2</text>
<text x="428.8" y="337.8">−4</text>
<text x="428.8" y="373.4">−6</text>
<text x="428.8" y="409">−8</text>
<text transform="translate(261.6 335.95) rotate(-90)" text-anchor="middle">Level</text>
<text transform="translate(465.8 336.55) rotate(-90)" text-anchor="middle" fill="#585858">%Δ</text>
<clipPath id="c5"><rect x="531.4" y="259" width="109.6" height="153.9"/></clipPath>
<text x="585.7" y="244.3" text-anchor="middle" font-size="11.9">Home Output</text>
<path d="M535.75 259V412.9M554.65 259V412.9M573.55 259V412.9M592.45 259V412.9M611.35 259V412.9M630.25 259V412.9" stroke="#000" stroke-opacity="0.1" stroke-width="0.6" fill="none"/>
<g clip-path="url(#c5)">
<path d="M537.06 263.5h1.66V275.2h-1.66zM538.95 263.5h1.66V274h-1.66zM540.84 263.5h1.66V273.6h-1.66zM542.73 263.5h1.66V278.8h-1.66zM544.62 263.5h1.66V282.4h-1.66zM546.51 263.5h1.66V284.8h-1.66zM548.4 263.5h1.66V287.2h-1.66zM550.29 263.5h1.66V288.4h-1.66zM552.18 263.5h1.66V289.6h-1.66zM554.07 263.5h1.66V290.8h-1.66zM555.96 263.5h1.66V291.6h-1.66zM557.85 263.5h1.66V292.4h-1.66zM559.74 263.5h1.66V293h-1.66zM561.63 263.5h1.66V293.4h-1.66zM563.52 263.5h1.66V293.8h-1.66zM565.41 263.5h1.66V294h-1.66zM567.3 263.5h1.66V294.1h-1.66zM569.19 263.5h1.66V294.2h-1.66zM571.08 263.5h1.66V294.3h-1.66zM572.97 263.5h1.66V294.4h-1.66zM574.86 263.5h1.66V294.5h-1.66zM576.75 263.5h1.66V294.6h-1.66zM578.64 263.5h1.66V294.65h-1.66zM580.53 263.5h1.66V294.7h-1.66zM582.42 263.5h1.66V294.75h-1.66zM584.31 263.5h1.66V294.8h-1.66zM586.2 263.5h1.66V294.65h-1.66zM588.09 263.5h1.66V294.5h-1.66zM589.98 263.5h1.66V294.35h-1.66zM591.87 263.5h1.66V294.2h-1.66zM593.76 263.5h1.66V294.08h-1.66zM595.65 263.5h1.66V293.96h-1.66zM597.54 263.5h1.66V293.84h-1.66zM599.43 263.5h1.66V293.72h-1.66zM601.32 263.5h1.66V293.6h-1.66zM603.21 263.5h1.66V293.48h-1.66zM605.1 263.5h1.66V293.36h-1.66zM606.99 263.5h1.66V293.24h-1.66zM608.88 263.5h1.66V293.12h-1.66zM610.77 263.5h1.66V293h-1.66z" fill="#009AFA"/>
<path d="M542.73 262.6h1.66V263.5h-1.66zM548.4 287.2h1.66V288.2h-1.66zM550.29 261.6h1.66V263.5h-1.66zM552.18 261.5h1.66V263.5h-1.66zM555.96 261.3h1.66V263.5h-1.66zM557.85 262.2h1.66V263.5h-1.66zM561.63 293.4h1.66V294.8h-1.66zM563.52 261.1h1.66V263.5h-1.66zM565.41 262.4h1.66V263.5h-1.66zM567.3 294.1h1.66V295.2h-1.66zM571.08 262h1.66V263.5h-1.66zM572.97 294.4h1.66V296h-1.66zM574.86 294.5h1.66V296.5h-1.66zM576.75 294.6h1.66V297.2h-1.66zM578.64 294.65h1.66V296.6h-1.66zM580.53 294.7h1.66V297.8h-1.66zM582.42 294.75h1.66V297.8h-1.66zM584.31 294.8h1.66V299h-1.66zM586.2 294.65h1.66V299h-1.66zM588.09 294.5h1.66V299.6h-1.66zM589.98 294.35h1.66V302h-1.66zM591.87 294.2h1.66V306.8h-1.66zM593.76 294.08h1.66V305.6h-1.66zM595.65 293.96h1.66V306.8h-1.66zM597.54 293.84h1.66V309.2h-1.66zM599.43 293.72h1.66V309.8h-1.66zM601.32 293.6h1.66V310.4h-1.66zM603.21 293.48h1.66V314h-1.66zM605.1 293.36h1.66V315h-1.66zM606.99 293.24h1.66V315h-1.66zM608.88 293.12h1.66V317.6h-1.66zM610.77 293h1.66V318.2h-1.66z" fill="#E26F46"/>
<path d="M537.06 275.2h1.66V283.6h-1.66zM538.95 259h1.66V263.5h-1.66zM538.95 274h1.66V277h-1.66zM540.84 273.6h1.66V280h-1.66zM542.73 278.8h1.66V293.6h-1.66zM544.62 282.4h1.66V314h-1.66zM546.51 284.8h1.66V331.5h-1.66zM548.4 288.2h1.66V357.6h-1.66zM550.29 288.4h1.66V333.7h-1.66zM552.18 289.6h1.66V327.2h-1.66zM554.07 290.8h1.66V341.4h-1.66zM555.96 291.6h1.66V320.6h-1.66zM557.85 292.4h1.66V333h-1.66zM559.74 293h1.66V345.6h-1.66zM561.63 294.8h1.66V355.2h-1.66zM563.52 293.8h1.66V311.6h-1.66zM565.41 294h1.66V324.8h-1.66zM567.3 295.2h1.66V336.6h-1.66zM569.19 294.2h1.66V324.8h-1.66zM571.08 294.3h1.66V305h-1.66zM572.97 296h1.66V314h-1.66zM574.86 296.5h1.66V327.2h-1.66zM576.75 297.2h1.66V337h-1.66zM578.64 296.6h1.66V326h-1.66zM580.53 297.8h1.66V322.4h-1.66zM582.42 297.8h1.66V311.5h-1.66zM584.31 299h1.66V311.8h-1.66zM586.2 299h1.66V304.4h-1.66zM588.09 299.6h1.66V301.8h-1.66zM589.98 302h1.66V320h-1.66zM591.87 306.8h1.66V358.2h-1.66zM593.76 305.6h1.66V347.7h-1.66zM595.65 306.8h1.66V356h-1.66zM597.54 309.2h1.66V370.8h-1.66zM599.43 309.8h1.66V367.3h-1.66zM601.32 310.4h1.66V363.8h-1.66zM603.21 314h1.66V382h-1.66zM605.1 315h1.66V390.4h-1.66zM606.99 315h1.66V391.8h-1.66zM608.88 317.6h1.66V399.5h-1.66zM610.77 318.2h1.66V412.9h-1.66z" fill="#3DA44D"/>
<path d="M531.4 263.5H641" stroke="#000" stroke-width="1.15"/>
<polyline points="537.64,283.6 539.53,266.4 541.42,280 543.31,293.6 545.2,314 547.09,331.5 548.98,357.6 550.87,333.7 552.76,327.2 554.65,341.4 556.54,320.6 558.43,333 560.32,345.6 562.21,355.2 564.1,311.6 565.99,324.8 567.88,336.6 569.77,324.8 571.66,305 573.55,314 575.44,327.2 577.33,337 579.22,326 581.11,322.4 583,311.5 584.89,311.8 586.78,304.4 588.67,301.8 590.56,320 592.45,358.2 594.34,347.7 596.23,356 598.12,370.8 600.01,367.3 601.9,363.8 603.79,382 605.68,390.4 607.57,391.8 609.46,399.5 611.35,413" fill="none" stroke="#000080" stroke-width="1.2" stroke-linejoin="round"/>
<polyline points="537.64,283.6 539.53,266.4 541.42,280 543.31,293.6 545.2,314 547.09,331.5 548.98,357.6 550.87,333.7 552.76,327.2 554.65,341.4 556.54,320.6 558.43,333 560.32,345.6 562.21,355.2 564.1,311.6 565.99,324.8 567.88,336.6 569.77,324.8 571.66,305 573.55,314 575.44,327.2 577.33,337 579.22,326 581.11,322.4 583,311.5 584.89,311.8 586.78,304.4 588.67,301.8 590.56,320 592.45,358.2 594.34,347.7 596.23,356 598.12,370.8 600.01,367.3 601.9,363.8 603.79,382 605.68,390.4 607.57,391.8 609.46,399.5 611.35,413" fill="none" stroke="#FF4500" stroke-width="1.2" stroke-linejoin="round"/>
<polyline points="611.35,413 613.24,408 615.13,406.3 617.02,411.7 618.91,406 620.8,400 622.69,397 624.58,394.1 626.47,391.5 628.36,389 630.25,387.6 632.14,386.1 634.03,384.8" fill="none" stroke="#000080" stroke-width="1.2" stroke-dasharray="8.6 5.8 7.6 5.7 8.2 4.2 7.8 4.6"/>
</g>
<path d="M531.4 259H641" stroke="#000" stroke-opacity="0.27" stroke-width="1"/>
<path d="M531.4 258.5V412.9H641V258.5M535.75 413.4v-5.3M554.65 413.4v-5.3M573.55 413.4v-5.3M592.45 413.4v-5.3M611.35 413.4v-5.3M630.25 413.4v-5.3M531.4 286.4h4.8M531.4 318.6h4.8M531.4 350.8h4.8M531.4 383h4.8M641 263.5h-4.8M641 287.4h-4.8M641 311.3h-4.8M641 335.2h-4.8M641 359.1h-4.8M641 383h-4.8M641 406.9h-4.8" stroke="#000" stroke-width="1" fill="none"/>
<text x="535.75" y="429.7" text-anchor="middle">0</text>
<text x="554.65" y="429.7" text-anchor="middle">10</text>
<text x="573.55" y="429.7" text-anchor="middle">20</text>
<text x="592.45" y="429.7" text-anchor="middle">30</text>
<text x="611.35" y="429.7" text-anchor="middle">40</text>
<text x="630.25" y="429.7" text-anchor="middle">50</text>
<text x="521.5" y="290.8" text-anchor="end">1.08</text>
<text x="521.5" y="323" text-anchor="end">1.05</text>
<text x="521.5" y="355.2" text-anchor="end">1.02</text>
<text x="521.5" y="387.4" text-anchor="end">0.99</text>
<text x="650.8" y="267.9">0</text>
<text x="650.8" y="291.8">−2</text>
<text x="650.8" y="315.7">−4</text>
<text x="650.8" y="339.6">−6</text>
<text x="650.8" y="363.5">−8</text>
<text x="650.8" y="387.4">−10</text>
<text x="650.8" y="411.3">−12</text>
<text transform="translate(483 335.95) rotate(-90)" text-anchor="middle">Level</text>
<text transform="translate(695.2 336.55) rotate(-90)" text-anchor="middle" fill="#585858">%Δ</text>
<rect x="115.5" y="437" width="478.6" height="38.9" fill="#fff" stroke="#000" stroke-width="1"/>
<path d="M121.3 449.9H160.2" stroke="#000080" stroke-width="1.25"/>
<g font-size="11.9">
<text x="165.2" y="454.2">Estimate</text>
<path d="M239.5 449.9H278.1" stroke="#000080" stroke-width="1.25" stroke-dasharray="8.4 4.7"/>
<text x="283.5" y="454.2">Forecast</text>
<path d="M357.6 449.9H396.2" stroke="#FF4500" stroke-width="1.25"/>
<text x="401.6" y="454.2">Data</text>
<rect x="475.8" y="444.5" width="38.6" height="10.6" fill="#009AFA"/>
<text x="519.1" y="454.2">Initial value</text>
<rect x="121.4" y="457.9" width="39" height="10.3" fill="#E26F46"/>
<text x="165.2" y="466.8">E{F}₍ₓ₎</text>
<rect x="239.5" y="457.9" width="38.6" height="10.3" fill="#3DA44D"/>
<text x="283.5" y="466.8">E{H}₍ₓ₎</text>
</g>
</svg>
</body></html>
